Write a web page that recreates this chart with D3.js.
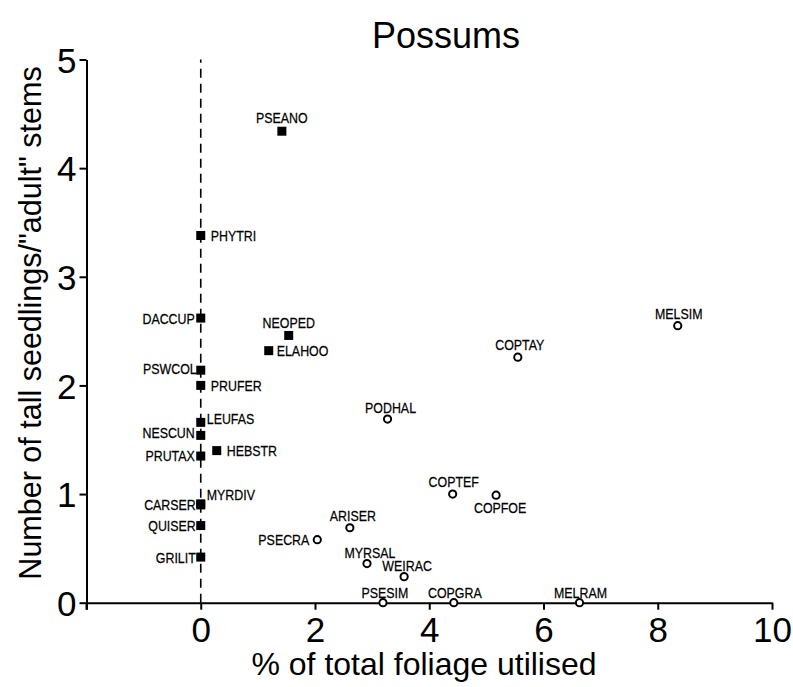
<!DOCTYPE html>
<html>
<head>
<meta charset="utf-8">
<script src="https://cdn.jsdelivr.net/npm/d3@7/dist/d3.min.js"></script>
<style>
  html, body { margin: 0; padding: 0; background: #fff; }
  svg { display: block; }
  .lbl { font-family: "Liberation Sans", Arial, Helvetica, sans-serif; font-size: 15.5px; fill: #000; stroke: #000; stroke-width: 0.25px; }
  .big { font-family: "Liberation Sans", Arial, Helvetica, sans-serif; fill: #000; }
</style>
</head>
<body>
<svg id="chart" width="793" height="687"></svg>
<script>
// ---- data ----
const squareSpecies = ["PSEANO","PHYTRI","DACCUP","NEOPED","ELAHOO","PSWCOL","PRUFER","LEUFAS","NESCUN","HEBSTR","PRUTAX","MYRDIV","CARSER","QUISER","GRILIT"];
const squareFoliage = [1.42, 0, 0, 1.54, 1.19, 0, 0, 0, 0, 0.28, 0, 0, 0, 0, 0];
const squareSeedlings = [4.34, 3.38, 2.62, 2.46, 2.32, 2.14, 2.00, 1.66, 1.54, 1.40, 1.35, 0.91, 0.90, 0.71, 0.42];

const circleSpecies = ["MELSIM","COPTAY","PODHAL","COPTEF","COPFOE","ARISER","PSECRA","MYRSAL","WEIRAC","PSESIM","COPGRA","MELRAM"];
const circleFoliage = [8.35, 5.55, 3.27, 4.41, 5.17, 2.61, 2.04, 2.91, 3.56, 3.19, 4.43, 6.63];
const circleSeedlings = [2.55, 2.26, 1.69, 1.00, 0.99, 0.69, 0.58, 0.36, 0.24, 0, 0, 0];

const xTicks = [0, 2, 4, 6, 8, 10];
const yTicks = [0, 1, 2, 3, 4, 5];
const title = "Possums";
const xTitle = "% of total foliage utilised";
const yTitle = "Number of tall seedlings/\"adult\" stems";

// ---- label layout (side, dx, dy in px) ----
const labelLayout = {
  PSEANO: ["top", 0, -8], PHYTRI: ["right", 10, 0], DACCUP: ["left", -6, 0],
  NEOPED: ["top", 0, -7], ELAHOO: ["right", 8, 0], PSWCOL: ["left", -4, -2],
  PRUFER: ["right", 10, 0], LEUFAS: ["right", 6, -4], NESCUN: ["left", -6, -3],
  HEBSTR: ["right", 10, 0], PRUTAX: ["left", -6, -1], MYRDIV: ["right", 6, -9],
  CARSER: ["left", -5, 0], QUISER: ["left", -5, 0], GRILIT: ["left", -5, 0],
  MELSIM: ["top", 1, -7], COPTAY: ["top", 2, -7], PODHAL: ["top", 3, -6],
  COPTEF: ["top", 1, -7], COPFOE: ["bottom", 4, 18], ARISER: ["top", 3, -7],
  PSECRA: ["left", -8, 0], MYRSAL: ["top", 3, -6], WEIRAC: ["top", 3, -6],
  PSESIM: ["top", 2, -5], COPGRA: ["top", 1, -5], MELRAM: ["top", 1, -5]
};
const narrow = 0.8; // horizontal compression of the point-label typeface

const svg = d3.select("#chart");
const x = d3.scaleLinear().domain([-2, 10]).range([86.5, 772]);
const y = d3.scaleLinear().domain([0, 5]).range([602.7, 59.5]);

// axes
const gx = svg.append("g").attr("transform", `translate(0,${y(0)})`)
  .call(d3.axisBottom(x).tickValues([-2].concat(xTicks)).tickSize(7).tickSizeOuter(0).tickPadding(6)
    .tickFormat(d => d === -2 ? "" : d3.format("d")(d)));
const gy = svg.append("g").attr("transform", `translate(${x(-2)},0)`)
  .call(d3.axisLeft(y).tickValues(yTicks).tickSize(7).tickSizeOuter(0).tickPadding(3).tickFormat(d3.format("d")));
[gx, gy].forEach(g => {
  g.select(".domain").attr("stroke", "#000").attr("stroke-width", 2);
  g.selectAll(".tick line").attr("stroke", "#000").attr("stroke-width", 2);
  g.selectAll(".tick text").attr("class", "big").attr("font-size", 35).attr("fill", "#000")
    .style("font-family", "'Liberation Sans', Arial, sans-serif");
});
gx.selectAll(".tick text").attr("dy", "0.75em");
gy.selectAll(".tick text").attr("dy", "0.36em");
// bottom half of y-axis corner tick crossing
svg.append("line").attr("x1", x(-2)).attr("x2", x(-2)).attr("y1", y(0)).attr("y2", y(0) + 7)
  .attr("stroke", "#000").attr("stroke-width", 2);

// dashed reference line at x = 0
svg.append("line").attr("x1", x(0)).attr("x2", x(0)).attr("y1", y(0)).attr("y2", y(5))
  .attr("stroke", "#000").attr("stroke-width", 1.6).attr("stroke-dasharray", "9,6");

// titles
svg.append("text").attr("class", "big").attr("x", 446).attr("y", 48)
  .attr("text-anchor", "middle").attr("font-size", 36).text(title);
svg.append("text").attr("class", "big").attr("x", 424).attr("y", 675)
  .attr("text-anchor", "middle").attr("font-size", 32).text(xTitle);
svg.append("text").attr("class", "big").attr("transform", "translate(41,323) rotate(-90)")
  .attr("text-anchor", "middle").attr("font-size", 30.5).text(yTitle);

// points
const squares = squareSpecies.map((s, i) => ({ s, fx: squareFoliage[i], sy: squareSeedlings[i] }));
const circles = circleSpecies.map((s, i) => ({ s, fx: circleFoliage[i], sy: circleSeedlings[i] }));

svg.append("g").selectAll("rect").data(squares).join("rect")
  .attr("x", d => x(d.fx) - 4.5).attr("y", d => y(d.sy) - 4.5)
  .attr("width", 9).attr("height", 9).attr("fill", "#000");

svg.append("g").selectAll("circle").data(circles).join("circle")
  .attr("cx", d => x(d.fx)).attr("cy", d => y(d.sy)).attr("r", 3.6)
  .attr("fill", "#fff").attr("stroke", "#000").attr("stroke-width", 2);

// labels
const all = squares.concat(circles);
svg.append("g").selectAll("text").data(all).join("text")
  .attr("class", "lbl")
  .each(function (d) {
    const [side, dx, dy] = labelLayout[d.s];
    let px = x(d.fx) + dx, py = y(d.sy) + dy;
    let anchor = "start";
    if (side === "top" || side === "bottom") anchor = "middle";
    else if (side === "left") { anchor = "end"; py += 5.5; }
    else py += 5.5;
    d3.select(this).attr("text-anchor", anchor)
      .attr("transform", `translate(${px},${py}) scale(${narrow},1)`);
  })
  .text(d => d.s);
</script>
</body>
</html>
